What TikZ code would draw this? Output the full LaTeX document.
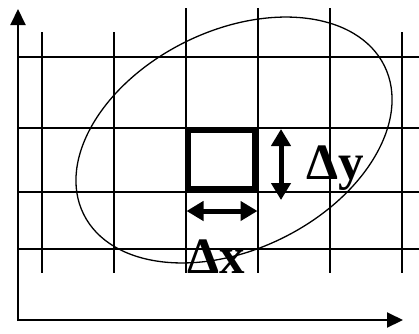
\documentclass[tikz,border=0pt]{standalone}
\usepackage{fontspec}
\setmainfont{Liberation Serif}
\usetikzlibrary{arrows.meta}
\begin{document}
\begin{tikzpicture}[x=1pt,y=-1pt,
  grid/.style={line width=2pt},
  axis/.style={line width=2pt,-{Triangle[length=16pt,width=15pt]}},
  dbl/.style={line width=5pt,{Triangle[length=17pt,width=19pt]}-{Triangle[length=17pt,width=19pt]}},
  lbl/.style={inner sep=0pt,anchor=base west,font=\fontsize{51}{51}\selectfont\bfseries}]
\useasboundingbox (0,0) rectangle (419,333);
% grid horizontal
\foreach \y in {57,128,192,249} \draw[grid] (18,\y) -- (419,\y);
% grid vertical
\foreach \x in {42,114,402} \draw[grid] (\x,32) -- (\x,273);
\foreach \x in {186,258,330} \draw[grid] (\x,8) -- (\x,273);
% ellipse
\draw[line width=1.3pt,rotate around={26.2:(234,140)}] (234,140) ellipse [x radius=167.7, y radius=109.4];
% axes
\coordinate (O) at (18,320);
\coordinate (Ytip) at (18,9);
\coordinate (Xtip) at (403,320);
\draw[axis] (18,321) -- (Ytip);
\draw[axis] (17,320) -- (Xtip);
% square
\draw[line width=5.5pt] (188,130) rectangle (255,189);
% arrows
\coordinate (vt) at (281,129);
\coordinate (vb) at (281,200);
\coordinate (hl) at (186.5,211);
\coordinate (hr) at (257.5,211);
\draw[dbl] (vt) -- (vb);
\draw[dbl] (hl) -- (hr);
% labels
\node[lbl] (dy) at (306,179) {Δy};
\node[lbl] (dx) at (187,273) {Δx};
\end{tikzpicture}
\end{document}
